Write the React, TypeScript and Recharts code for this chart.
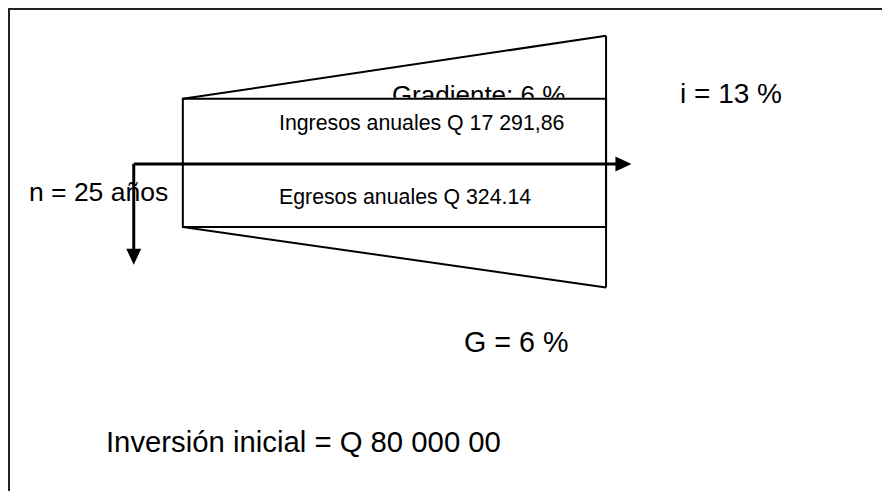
import React from "react";
import {
  ComposedChart,
  XAxis,
  YAxis,
  ReferenceLine,
  ReferenceArea,
  ReferenceDot,
} from "recharts";

// Diagrama de flujo de caja (esquemático): eje x en años, eje y en alturas relativas
const periodos = [0, 25];
const ingresos = [1, 1.97]; // bloque de ingresos con gradiente creciente
const egresos = [-0.97, -1.9]; // bloque de egresos con gradiente
const ejeTiempo = [-2.9, 26.5]; // flecha del tiempo
const inversion = [0, -1.55]; // flecha de la inversión inicial

const textos = {
  gradiente: "Gradiente: 6 %",
  interes: "i = 13 %",
  ingresos: "Ingresos anuales Q 17 291,86",
  egresos: "Egresos anuales Q 324.14",
  periodo: "n = 25 años",
  g: "G = 6 %",
  inversion: "Inversión inicial = Q 80 000 00",
};

const FONT = "'Liberation Sans', Arial, sans-serif";

const notas = [
  { key: "interes", x: 29.37, y: 0.936, size: 28 },
  { key: "ingresos", x: 5.68, y: 0.52, size: 21.3 },
  { key: "egresos", x: 5.68, y: -0.617, size: 21.3 },
  { key: "periodo", x: -9.09, y: -0.57, size: 26.5 },
  { key: "g", x: 16.61, y: -2.89, size: 28.7 },
  { key: "inversion", x: -4.54, y: -4.43, size: 29.3 },
];

const Nota = ({ cx, cy, texto, size }: any) => (
  <text x={cx} y={cy} fontSize={size} fontFamily={FONT} fill="#000">
    {texto}
  </text>
);

// texto del gradiente, tapado en su parte baja por el bloque de ingresos
const NotaGradiente = ({ cx, cy }: any) => (
  <g>
    <defs>
      <clipPath id="clipGradiente">
        <rect x={cx - 20} y={cy - 60} width={300} height={59} />
      </clipPath>
    </defs>
    <text
      x={cx}
      y={cy + 5}
      fontSize={26}
      fontFamily={FONT}
      fill="#000"
      clipPath="url(#clipGradiente)"
    >
      {textos.gradiente}
    </text>
  </g>
);

const PuntaDerecha = ({ cx, cy }: any) => (
  <polygon
    points={`${cx},${cy} ${cx - 16},${cy - 7.5} ${cx - 16},${cy + 7.5}`}
    fill="#000"
  />
);

const PuntaAbajo = ({ cx, cy }: any) => (
  <polygon
    points={`${cx},${cy} ${cx - 7.5},${cy - 16} ${cx + 7.5},${cy - 16}`}
    fill="#000"
  />
);

const App: React.FC = () => {
  return (
    <div
      style={{
        position: "absolute",
        left: 0,
        top: 0,
        width: 882,
        height: 491,
        background: "#fff",
      }}
    >
      <div
        style={{
          position: "absolute",
          left: 8,
          top: 8,
          width: 874,
          height: 483,
          borderTop: "2px solid #222",
          borderLeft: "2px solid #222",
          boxSizing: "border-box",
        }}
      />
      <div style={{ position: "absolute", left: 0, top: 0 }}>
        <ComposedChart
          width={882}
          height={491}
          margin={{ top: 0, right: 0, bottom: 0, left: 0 }}
          data={[]}
        >
          <XAxis
            type="number"
            dataKey="x"
            domain={[-10.8, 41.3]}
            allowDataOverflow
            hide
          />
          <YAxis type="number" domain={[-5.03, 2.52]} allowDataOverflow hide />

          <ReferenceDot
            x={periodos[0] + 12.35}
            y={ingresos[0]}
            r={0}
            shape={(p: any) => <NotaGradiente {...p} />}
          />

          {/* bordes inclinados del gradiente */}
          <ReferenceLine
            segment={[
              { x: periodos[0], y: ingresos[0] },
              { x: periodos[1], y: ingresos[1] },
            ]}
            stroke="#000"
            strokeWidth={2}
          />
          <ReferenceLine
            segment={[
              { x: periodos[0], y: egresos[0] },
              { x: periodos[1], y: egresos[1] },
            ]}
            stroke="#000"
            strokeWidth={2}
          />
          <ReferenceLine
            segment={[
              { x: periodos[1], y: ingresos[1] },
              { x: periodos[1], y: egresos[1] },
            ]}
            stroke="#000"
            strokeWidth={2}
          />

          {/* bloque de anualidades */}
          <ReferenceArea
            x1={periodos[0]}
            x2={periodos[1]}
            y1={egresos[0]}
            y2={ingresos[0]}
            fill="#fff"
            fillOpacity={1}
            stroke="#000"
            strokeWidth={2}
          />

          {/* eje del tiempo e inversión inicial */}
          <ReferenceLine
            segment={[
              { x: ejeTiempo[0], y: 0 },
              { x: ejeTiempo[1] - 0.9, y: 0 },
            ]}
            stroke="#000"
            strokeWidth={3}
          />
          <ReferenceDot
            x={ejeTiempo[1]}
            y={0}
            r={0}
            shape={(p: any) => <PuntaDerecha {...p} />}
          />
          <ReferenceLine
            segment={[
              { x: ejeTiempo[0], y: inversion[0] },
              { x: ejeTiempo[0], y: inversion[1] + 0.2 },
            ]}
            stroke="#000"
            strokeWidth={3}
          />
          <ReferenceDot
            x={ejeTiempo[0]}
            y={inversion[1]}
            r={0}
            shape={(p: any) => <PuntaAbajo {...p} />}
          />

          {notas.map((n) => (
            <ReferenceDot
              key={n.key}
              x={n.x}
              y={n.y}
              r={0}
              shape={(p: any) => (
                <Nota {...p} texto={(textos as any)[n.key]} size={n.size} />
              )}
            />
          ))}
        </ComposedChart>
      </div>
    </div>
  );
};

export default App;
